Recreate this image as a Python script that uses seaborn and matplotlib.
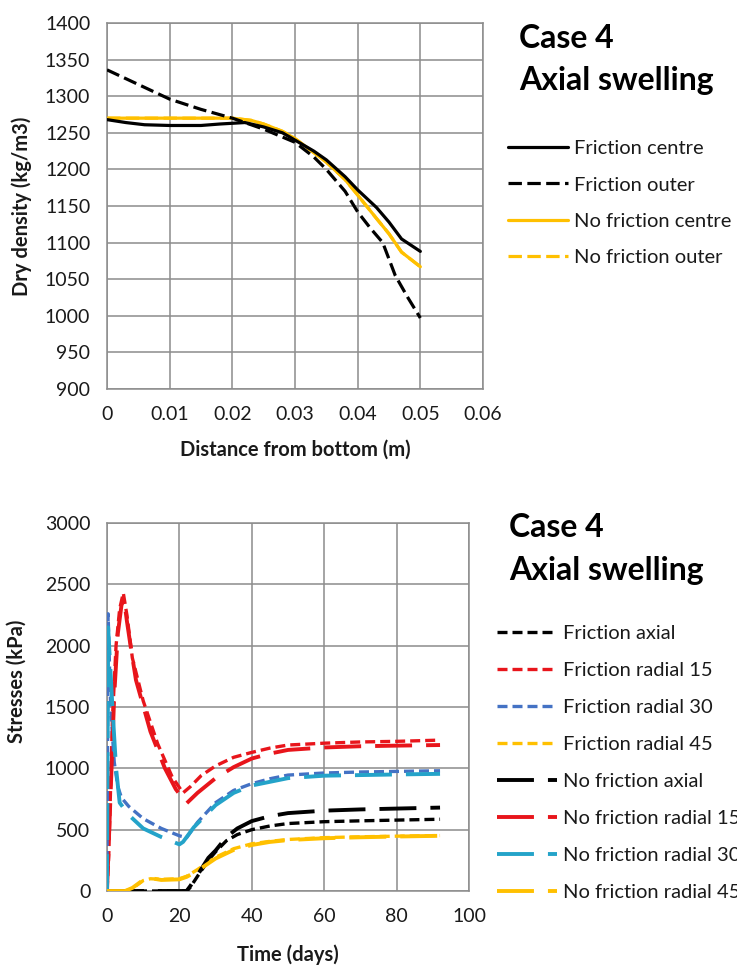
import numpy as np
import pandas as pd
import matplotlib
matplotlib.use("Agg")
import matplotlib.pyplot as plt
import seaborn as sns

# ---------------- Data: top chart (dry density) ----------------
fc_x = [0.0, 0.003, 0.006, 0.01, 0.015, 0.018, 0.02, 0.022, 0.025, 0.028, 0.03, 0.033, 0.035,
        0.038, 0.04, 0.043, 0.045, 0.047, 0.05]
fc_y = [1268, 1264, 1261, 1260, 1260, 1262, 1263, 1264, 1258, 1250, 1240, 1225, 1213,
        1190, 1172, 1148, 1128, 1105, 1088]

fo_x = [0.0, 0.005, 0.01, 0.015, 0.02, 0.025, 0.03, 0.033, 0.035, 0.038, 0.04, 0.042,
        0.044, 0.046, 0.048, 0.05]
fo_y = [1336, 1316, 1296, 1282, 1270, 1255, 1237, 1217, 1200, 1170, 1142, 1120,
        1100, 1055, 1025, 997]

nc_x = [0.0, 0.005, 0.01, 0.015, 0.02, 0.023, 0.025, 0.028, 0.03, 0.033, 0.035, 0.038,
        0.04, 0.043, 0.045, 0.047, 0.05]
nc_y = [1270, 1270, 1270, 1270, 1270, 1267, 1262, 1252, 1242, 1223, 1210, 1186,
        1165, 1133, 1112, 1087, 1067]

no_x = nc_x
no_y = [1270, 1270, 1270, 1270, 1270, 1267, 1262, 1252, 1242, 1223, 1210, 1186,
        1165, 1133, 1112, 1087, 1067]

top_labels = ["Friction centre", "Friction outer", "No friction centre", "No friction outer"]

# ---------------- Data: bottom chart (stresses) ----------------
fa_t = [0, 5, 10, 15, 20, 22, 23, 25, 28, 30, 33, 36, 40, 45, 50, 60, 70, 80, 92]
fa_s = [0, 0, 0, 0, 0, 0, 30, 120, 250, 320, 410, 460, 500, 530, 550, 565, 572, 578, 585]

fr15_t = [0, 0.5, 1.5, 2.5, 3.5, 4.5, 5.5, 7, 10, 14, 18, 21, 23, 26, 30, 35, 40, 45, 50,
          60, 70, 80, 92]
fr15_s = [0, 300, 1400, 2000, 2300, 2430, 2250, 1900, 1550, 1200, 930, 800, 850, 940, 1020,
          1090, 1130, 1165, 1190, 1205, 1215, 1220, 1230]

fr30_t = [0, 0.3, 1, 2, 3, 4, 6, 10, 15, 20, 22, 25, 30, 35, 40, 45, 50, 60, 70, 80, 92]
fr30_s = [0, 2260, 1500, 1050, 850, 760, 690, 590, 510, 450, 435, 560, 720, 820, 875, 915,
          945, 962, 970, 975, 980]

fr45_t = [0, 5, 7, 10, 12, 15, 20, 22, 25, 30, 35, 40, 45, 50, 60, 70, 80, 92]
fr45_s = [0, 0, 20, 85, 100, 95, 100, 120, 175, 275, 345, 385, 405, 420, 435, 442, 447, 452]

na_t = [0, 5, 10, 15, 20, 22, 23, 25, 28, 30, 33, 36, 40, 45, 50, 60, 70, 80, 92]
na_s = [0, 0, 0, 0, 0, 0, 40, 130, 270, 330, 440, 510, 570, 610, 635, 655, 665, 672, 680]

nr15_t = [0, 1, 2, 3, 4, 4.7, 5.5, 6.5, 8, 12, 16, 19, 22, 25, 30, 35, 40, 45, 50, 60, 70,
          80, 92]
nr15_s = [0, 800, 1600, 2100, 2330, 2380, 2200, 2000, 1720, 1300, 1000, 830, 715, 800, 920,
          1010, 1080, 1120, 1150, 1170, 1180, 1185, 1190]

nr30_t = [0, 0.3, 1.5, 2.5, 3.5, 6, 10, 15, 20, 21, 24, 30, 35, 40, 50, 60, 70, 80, 92]
nr30_s = [0, 2150, 1500, 1000, 720, 620, 510, 440, 380, 400, 520, 700, 800, 860, 920, 940,
          945, 950, 955]

nr45_t = [0, 5, 7, 10, 12, 15, 20, 22, 25, 30, 35, 40, 45, 50, 60, 70, 80, 92]
nr45_s = [0, 0, 25, 90, 105, 90, 95, 115, 165, 265, 335, 375, 400, 415, 430, 438, 444, 450]

bot_labels = ["Friction axial", "Friction radial 15", "Friction radial 30", "Friction radial 45",
              "No friction axial", "No friction radial 15", "No friction radial 30",
              "No friction radial 45"]

# ---------------- Styling ----------------
sns.set_style("white")
plt.rcParams["font.family"] = ["Lato", "DejaVu Sans"]

BLACK = "#000000"
YELLOW = "#FFC000"
RED = "#E8151B"
BLUE = "#4472C4"
CYAN = "#24A3C9"
GRID = "#8C8C8C"
TXT = "#1a1a1a"

TICK_FS = 14
LABEL_FS = 14.5
LEG_FS = 14.5
TITLE_FS = 23

short_top = (0, (4.2, 1.7))
short_bot = (0, (3.0, 1.5))
long_bot = (0, (9.5, 3.6))

fig = plt.figure(figsize=(7.37, 9.65), dpi=100)
ax1 = fig.add_axes([107 / 737, 1 - 389 / 965, (483 - 107) / 737, (389 - 23) / 965])
ax2 = fig.add_axes([107 / 737, 1 - 891 / 965, (469 - 107) / 737, (891 - 523) / 965])


def style_axes(ax):
    ax.grid(True, color=GRID, lw=1.1)
    ax.set_axisbelow(True)
    for s in ax.spines.values():
        s.set_color(GRID)
        s.set_linewidth(1.1)
    ax.tick_params(axis="both", which="major", direction="out", length=5, width=1.1,
                   color=GRID, labelsize=TICK_FS, labelcolor=TXT, pad=7)


# ---------------- Top chart ----------------
top_series = [
    (fc_x, fc_y, BLACK, "-", 2.3, top_labels[0], 4),
    (fo_x, fo_y, BLACK, short_top, 2.3, top_labels[1], 5),
    (no_x, no_y, YELLOW, short_top, 2.3, top_labels[3], 2),
    (nc_x, nc_y, YELLOW, "-", 2.3, top_labels[2], 3),
]
for x, y, c, ls, lw, lab, z in top_series:
    df = pd.DataFrame({"x": x, "y": y})
    sns.lineplot(data=df, x="x", y="y", ax=ax1, color=c, linestyle=ls, lw=lw,
                 label=lab, errorbar=None, legend=False, zorder=z)

ax1.set_xlim(0, 0.06)
ax1.set_ylim(900, 1400)
ax1.set_xticks(np.arange(0, 0.061, 0.01))
ax1.set_xticklabels(["0", "0.01", "0.02", "0.03", "0.04", "0.05", "0.06"])
ax1.set_yticks(np.arange(900, 1401, 50))
style_axes(ax1)
ax1.set_xlabel("Distance from bottom (m)", fontsize=LABEL_FS, weight="bold", color=TXT)
ax1.set_ylabel("Dry density (kg/m3)", fontsize=LABEL_FS, weight="bold", color=TXT)
ax1.xaxis.set_label_coords(0.5, -0.139)
ax1.yaxis.set_label_coords(-0.2, 0.5)

h, l = ax1.get_legend_handles_labels()
hd = dict(zip(l, h))
leg1 = ax1.legend([hd[k] for k in top_labels], top_labels, loc="upper left",
                  bbox_to_anchor=(508 / 737, 1 - 140 / 965), bbox_transform=fig.transFigure,
                  frameon=False, fontsize=LEG_FS, handlelength=3.0, handletextpad=0.3,
                  labelspacing=0.96, borderpad=0, borderaxespad=0)
for t in leg1.get_texts():
    t.set_color(TXT)

fig.text(519 / 737, 1 - 48 / 965, "Case 4", fontsize=TITLE_FS, weight="bold", color=BLACK,
         va="baseline", ha="left")
fig.text(519 / 737, 1 - 90 / 965, "Axial swelling", fontsize=TITLE_FS, weight="bold",
         color=BLACK, va="baseline", ha="left")

# ---------------- Bottom chart ----------------
bot_series = [
    (fa_t, fa_s, BLACK, short_bot, 2.4),
    (fr15_t, fr15_s, RED, short_bot, 2.4),
    (fr30_t, fr30_s, BLUE, short_bot, 2.4),
    (fr45_t, fr45_s, YELLOW, short_bot, 2.4),
    (na_t, na_s, BLACK, long_bot, 2.8),
    (nr15_t, nr15_s, RED, long_bot, 2.8),
    (nr30_t, nr30_s, CYAN, long_bot, 2.8),
    (nr45_t, nr45_s, YELLOW, long_bot, 2.8),
]
for (t, s, c, ls, lw), lab in zip(bot_series, bot_labels):
    df = pd.DataFrame({"t": t, "s": s})
    sns.lineplot(data=df, x="t", y="s", ax=ax2, color=c, linestyle=ls, lw=lw,
                 label=lab, errorbar=None, legend=False, zorder=3)

ax2.set_xlim(0, 100)
ax2.set_ylim(0, 3000)
ax2.set_xticks(np.arange(0, 101, 20))
ax2.set_yticks(np.arange(0, 3001, 500))
style_axes(ax2)
ax2.set_xlabel("Time (days)", fontsize=LABEL_FS, weight="bold", color=TXT)
ax2.set_ylabel("Stresses (kPa)", fontsize=LABEL_FS, weight="bold", color=TXT)
ax2.xaxis.set_label_coords(0.5, -0.144)
ax2.yaxis.set_label_coords(-0.221, 0.571)

h, l = ax2.get_legend_handles_labels()
leg2 = ax2.legend(h, l, loc="upper left",
                  bbox_to_anchor=(497 / 737, 1 - 625 / 965), bbox_transform=fig.transFigure,
                  frameon=False, fontsize=LEG_FS, handlelength=3.0, handletextpad=0.3,
                  labelspacing=0.985, borderpad=0, borderaxespad=0)
for t in leg2.get_texts():
    t.set_color(TXT)

fig.text(509 / 737, 1 - 537 / 965, "Case 4", fontsize=TITLE_FS, weight="bold", color=BLACK,
         va="baseline", ha="left")
fig.text(509 / 737, 1 - 580 / 965, "Axial swelling", fontsize=TITLE_FS, weight="bold",
         color=BLACK, va="baseline", ha="left")

fig.savefig("out.png", dpi=100, facecolor="white")
